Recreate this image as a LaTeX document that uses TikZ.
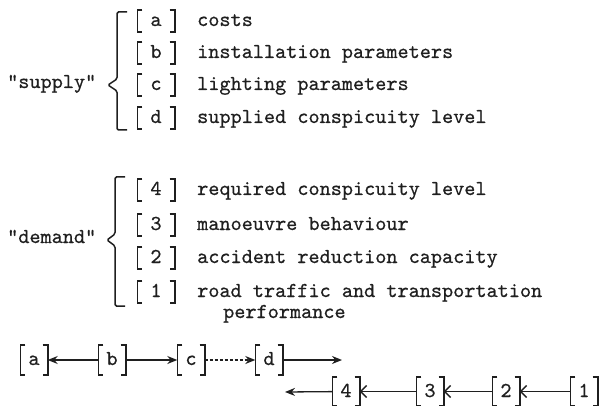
\documentclass[tikz,border=0pt]{standalone}
\usepackage{fontspec}
\setmonofont{lmmono10-regular.otf}[FakeBold=0.6]
\usetikzlibrary{arrows.meta}
\definecolor{ink}{gray}{0.12}
\begin{document}
\begin{tikzpicture}[x=1pt,y=-1pt,
  every node/.style={text=ink, font=\ttfamily\fontsize{21.2}{17}\selectfont, inner sep=0pt},
  desc/.style={anchor=base west},
  tag/.style={anchor=base, minimum width=37pt, text height=16pt, text depth=6pt},
  link/.style={anchor=base, minimum width=27pt, text height=20pt, text depth=10pt},
  bracketline/.style={draw=ink, line width=1.6pt},
  brace/.style={draw=ink, line width=1.5pt, rounded corners=1.5pt},
  flow/.style={draw=ink, line width=1.3pt, -{Stealth[length=10pt,width=8pt]}},
  barb/.style={draw=ink, line width=1.3pt, -{Straight Barb[length=6pt,width=12pt]}}
]
\useasboundingbox (0,0) rectangle (602,406);

% supply side
\node[desc] (sup) at (7,88) {"supply"};
\draw[brace] (127,12) -- (117,12) -- (117,79) -- (108,85) -- (117,91) -- (117,130) -- (127,130);
\node[tag] (ta) at (156,26)  {a};
\node[tag] (tb) at (156,58)  {b};
\node[tag] (tc) at (156,90)  {c};
\node[tag] (td) at (156,123) {d};
\node[desc] (da) at (197,26)  {costs};
\node[desc] (db) at (197,58)  {installation parameters};
\node[desc] (dc) at (197,90)  {lighting parameters};
\node[desc] (dd) at (197,123) {supplied conspicuity level};

% demand side
\node[desc] (dem) at (7,243) {"demand"};
\draw[brace] (125,177) -- (115,177) -- (115,234) -- (107,240) -- (115,246) -- (115,306) -- (125,306);
\node[tag] (t4) at (156,195) {4};
\node[tag] (t3) at (156,230) {3};
\node[tag] (t2) at (156,263) {2};
\node[tag] (t1) at (156,297) {1};
\node[desc] (d4) at (197,195) {required conspicuity level};
\node[desc] (d3) at (197,230) {manoeuvre behaviour};
\node[desc] (d2) at (197,263) {accident reduction capacity};
\node[desc] (d1) at (197,297) {road traffic and transportation};
\node[desc] (d1b) at (223,318) {performance};

% chains
\node[link] (ca) at (34,365)  {a};
\node[link] (cb) at (112,365) {b};
\node[link] (cc) at (191,365) {c};
\node[link] (cd) at (269,365) {d};
\coordinate (dout) at (342,360);

\node[link, text depth=9pt] (c4) at (346,397) {4};
\node[link, text depth=9pt] (c3) at (430,397) {3};
\node[link, text depth=9pt] (c2) at (506,397) {2};
\node[link, text depth=9pt] (c1) at (584,397) {1};
\coordinate (fout) at (285,392);

% square brackets round every tag
\foreach \n in {ta,tb,tc,td,t4,t3,t2,t1,ca,cb,cc,cd,c4,c3,c2,c1}
  \draw[bracketline]
    ([xshift=5pt]\n.north west) -- (\n.north west) -- (\n.south west) -- ([xshift=5pt]\n.south west)
    ([xshift=-5pt]\n.north east) -- (\n.north east) -- (\n.south east) -- ([xshift=-5pt]\n.south east);

% connectors
\draw[flow] (cb) -- (ca);
\draw[flow] (cb) -- (cc);
\draw[flow, densely dashed] (cc) -- (cd);
\draw[flow] (cd) -- (dout);
\draw[flow] (c4) -- (fout);
\draw[barb] (c3) -- (c4);
\draw[barb] (c2) -- (c3);
\draw[barb] (c1) -- (c2);
\end{tikzpicture}
\end{document}
